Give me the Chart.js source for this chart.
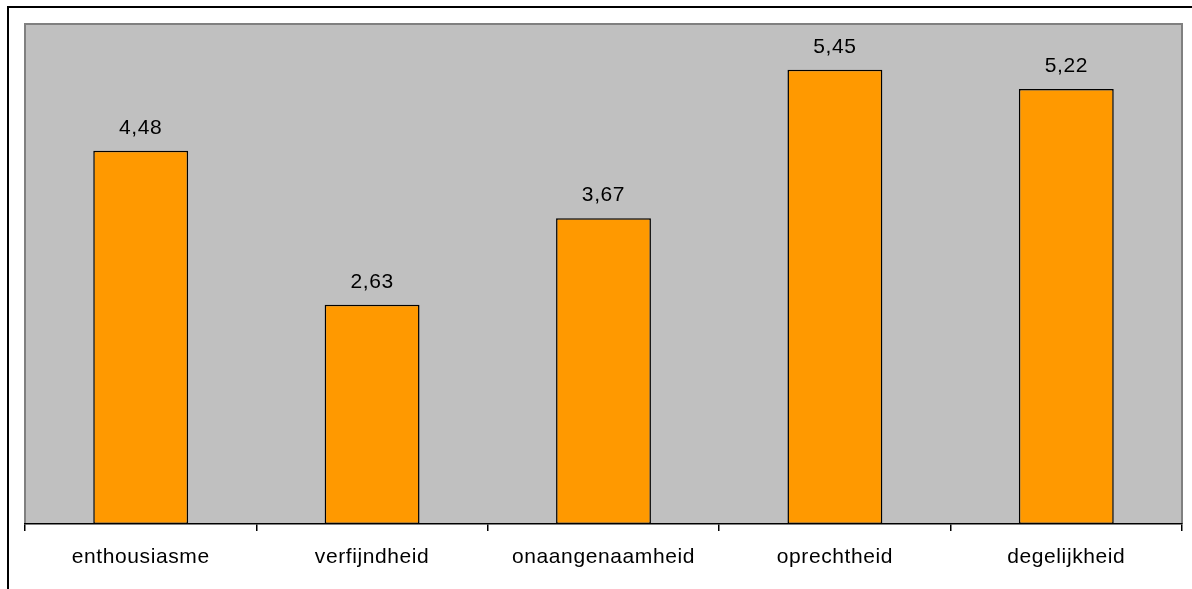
<!DOCTYPE html>
<html>
<head>
<meta charset="utf-8">
<style>
  html, body { margin: 0; padding: 0; background: #ffffff; }
  #wrap { width: 1192px; height: 589px; position: relative; }
</style>
<script src="https://cdn.jsdelivr.net/npm/chart.js@4"></script>
</head>
<body>
<div id="wrap"><canvas id="c" width="1192" height="589"></canvas></div>
<script>
const categories = ['enthousiasme', 'verfijndheid', 'onaangenaamheid', 'oprechtheid', 'degelijkheid'];
const scores = [4.48, 2.63, 3.67, 5.45, 5.22];
const yMin = 0;
const yMax = 6;

const FONT = '"Liberation Sans", Arial, Helvetica, sans-serif';
const TEXT_SPACING = '0.6px';

// Outer frame, grey plot background and the value labels above each bar
const decorations = {
  id: 'decorations',
  beforeDraw(chart) {
    const ctx = chart.ctx;
    const a = chart.chartArea;
    ctx.letterSpacing = TEXT_SPACING;
    ctx.save();
    ctx.fillStyle = '#ffffff';
    ctx.fillRect(0, 0, chart.width, chart.height);
    // page frame
    ctx.strokeStyle = '#000000';
    ctx.lineWidth = 2;
    ctx.beginPath();
    ctx.moveTo(8, chart.height + 2);
    ctx.lineTo(8, 7);
    ctx.lineTo(chart.width + 2, 7);
    ctx.stroke();
    // plot area
    ctx.fillStyle = '#c0c0c0';
    ctx.fillRect(a.left, a.top, a.right - a.left, a.bottom - a.top);
    ctx.strokeStyle = '#808080';
    ctx.lineWidth = 2;
    ctx.beginPath();
    ctx.moveTo(a.left, a.bottom);
    ctx.lineTo(a.left, a.top);
    ctx.lineTo(a.right, a.top);
    ctx.lineTo(a.right, a.bottom);
    ctx.stroke();
    ctx.restore();
  },
  afterDatasetsDraw(chart) {
    const ctx = chart.ctx;
    const meta = chart.getDatasetMeta(0);
    ctx.save();
    ctx.letterSpacing = TEXT_SPACING;
    ctx.fillStyle = '#000000';
    ctx.font = '21px ' + FONT;
    ctx.textAlign = 'center';
    ctx.textBaseline = 'alphabetic';
    meta.data.forEach((bar, i) => {
      const txt = scores[i].toFixed(2).replace('.', ',');
      ctx.fillText(txt, bar.x, bar.y - 17);
    });
    ctx.restore();
  }
};

new Chart(document.getElementById('c'), {
  type: 'bar',
  data: {
    labels: categories,
    datasets: [{
      data: scores,
      backgroundColor: '#ff9900',
      borderColor: '#000000',
      borderWidth: 1.5,
      borderSkipped: false,
      barPercentage: 0.41,
      categoryPercentage: 1.0
    }]
  },
  options: {
    responsive: false,
    animation: false,
    events: [],
    layout: { padding: { left: 25, right: 10, top: 24, bottom: 0 } },
    plugins: {
      legend: { display: false },
      tooltip: { enabled: false }
    },
    scales: {
      y: {
        display: false,
        min: yMin,
        max: yMax
      },
      x: {
        afterFit(scale) { scale.height = 65; },
        border: { display: true, color: '#000000', width: 1.5 },
        grid: {
          offset: true,
          drawOnChartArea: false,
          drawTicks: true,
          tickLength: 7,
          color: '#000000',
          lineWidth: 1.5
        },
        ticks: {
          color: '#000000',
          padding: 14,
          font: { family: FONT, size: 21 },
          maxRotation: 0
        }
      }
    }
  },
  plugins: [decorations]
});
</script>
</body>
</html>
